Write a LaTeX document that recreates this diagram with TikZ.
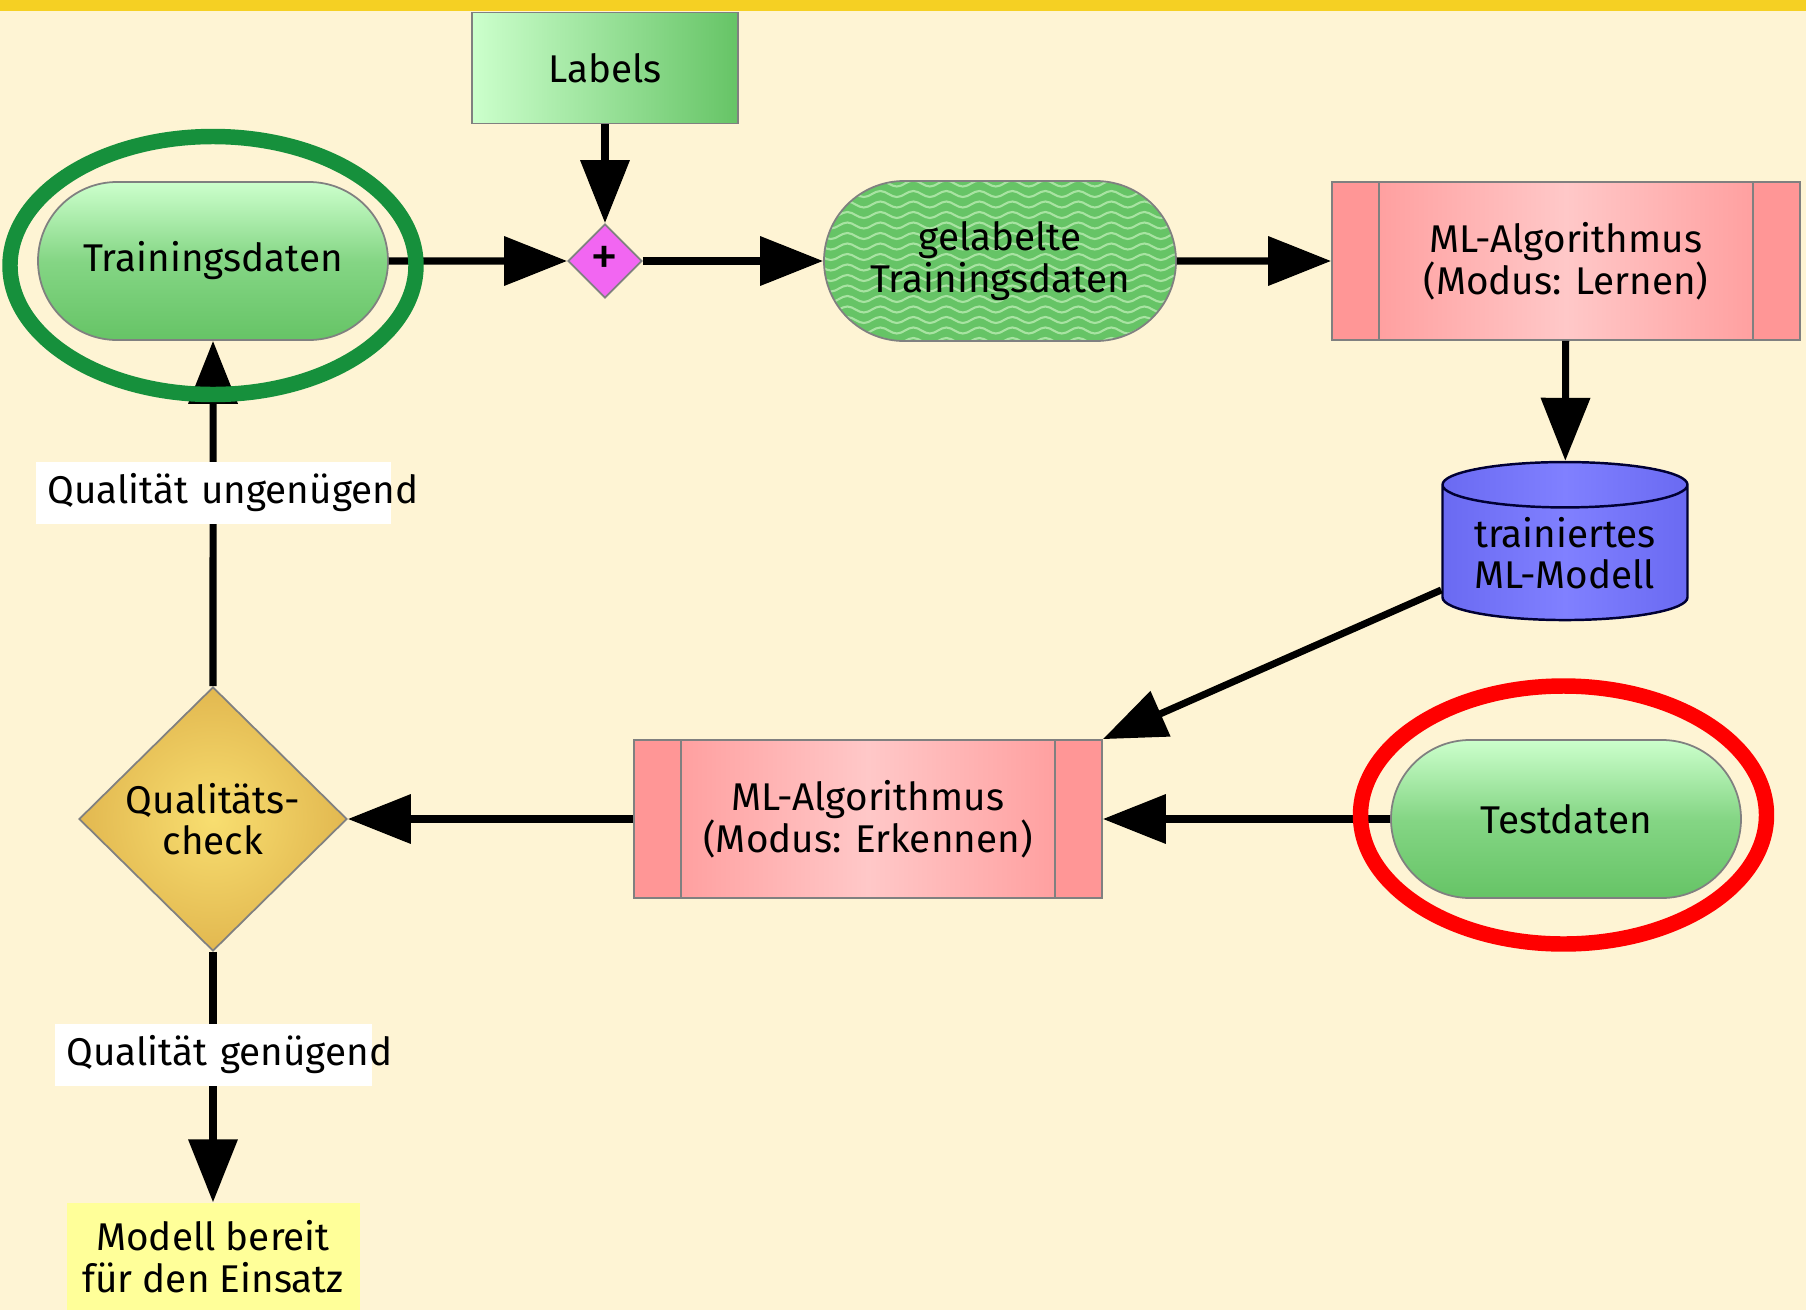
\documentclass[tikz,border=0pt]{standalone}
\usepackage{fontspec}
\setmainfont{Fira Sans}
\usetikzlibrary{shapes.geometric,shapes.misc,arrows.meta,decorations.pathmorphing}
\definecolor{bg}{HTML}{FEF4D4}
\definecolor{band}{HTML}{F5D023}
\definecolor{lgreen}{HTML}{CCFFCC}
\definecolor{mgreen}{HTML}{66C466}
\definecolor{wavy}{HTML}{A8E3A2}
\definecolor{dpink}{HTML}{FF9696}
\definecolor{lpink}{HTML}{FFC8C8}
\definecolor{plusfill}{HTML}{F266F2}
\definecolor{modfill}{HTML}{8080FF}
\definecolor{modedge}{HTML}{6A6AF2}
\definecolor{gold1}{HTML}{F8DE70}
\definecolor{gold2}{HTML}{E2B850}
\definecolor{ready}{HTML}{FFFF99}
\definecolor{ringgreen}{HTML}{16903C}
\definecolor{ringred}{HTML}{FF0000}
\tikzset{
  box/.style={draw=gray, line width=0.5pt, font=\fontsize{11}{11.8}\selectfont, align=center, inner sep=0pt},
  data/.style={box, rounded rectangle, minimum width=3.5cm, minimum height=1.58cm,
    top color=lgreen, bottom color=mgreen, middle color=mgreen!70!lgreen},
  waved/.style={box, rounded rectangle, minimum width=3.52cm, minimum height=1.6cm, fill=mgreen,
    path picture={\foreach \k in {0,...,16}
      \draw[wavy, line width=0.6pt, decorate, decoration={snake, amplitude=0.03cm, segment length=0.33cm}]
        ([xshift=-0.2cm, yshift=\k*0.105cm]path picture bounding box.south west)
        -- ([xshift=0.2cm, yshift=\k*0.105cm]path picture bounding box.south east);}},
  algo/.style={box, rectangle, minimum width=4.68cm, minimum height=1.58cm,
    left color=dpink, right color=dpink, middle color=lpink,
    path picture={
      \fill[dpink] (path picture bounding box.south west) rectangle ([xshift=0.47cm]path picture bounding box.north west);
      \fill[dpink] (path picture bounding box.south east) rectangle ([xshift=-0.47cm]path picture bounding box.north east);
      \draw[gray, line width=0.5pt] ([xshift=0.47cm]path picture bounding box.south west) -- ([xshift=0.47cm]path picture bounding box.north west);
      \draw[gray, line width=0.5pt] ([xshift=-0.47cm]path picture bounding box.south east) -- ([xshift=-0.47cm]path picture bounding box.north east);}},
  flow/.style={line width=2pt, -{Triangle[length=0.63cm, width=0.48cm]}},
  cond/.style={fill=white, inner xsep=0.12cm, inner ysep=0pt, minimum height=0.62cm, align=left,
    font=\fontsize{11}{11.8}\selectfont},
  ring/.style={line width=4.4pt}
}
\begin{document}
\begin{tikzpicture}
  \useasboundingbox (0,0) rectangle (18.06,-13.10);
  \fill[bg] (0,0) rectangle (18.06,-13.10);
  \fill[band] (0,0) rectangle (18.06,-0.11);

  \node[box, rectangle, minimum width=2.66cm, minimum height=1.11cm, left color=lgreen, right color=mgreen] (labels) at (6.05,-0.68) {Labels};
  \node[box, diamond, minimum size=0.74cm, fill=plusfill, font=\fontsize{16}{16}\selectfont\addfontfeatures{Weight=Light}] (plus) at (6.05,-2.61) {+};
  \node[data] (train) at (2.13,-2.61) {Trainingsdaten};
  \node[waved] (gelabelt) at (10.00,-2.61) {gelabelte\\Trainingsdaten};
  \node[algo] (lernen) at (15.66,-2.61) {ML-Algorithmus\\(Modus: Lernen)};
  \node[box, cylinder, shape border rotate=90, aspect=0.25, minimum width=2.45cm, minimum height=1.58cm,
        draw=black!80!blue, line width=0.7pt, left color=modedge, right color=modedge, middle color=modfill] (modell) at (15.65,-5.53) {trainiertes\\ML-Modell};
  \node[algo] (erkennen) at (8.68,-8.19) {ML-Algorithmus\\(Modus: Erkennen)};
  \node[data] (test) at (15.66,-8.19) {Testdaten};
  \node[box, diamond, minimum width=2.68cm, minimum height=2.64cm, inner color=gold1, outer color=gold2] (check) at (2.13,-8.19) {Qualitäts-\\check};
  \node[fill=ready, minimum width=2.93cm, minimum height=1.07cm, align=center, inner sep=0pt,
        font=\fontsize{11}{11.8}\selectfont] (bereit) at (2.13,-12.565) {Modell bereit\\für den Einsatz};

  \draw[flow] (train) -- (plus);
  \draw[flow] (labels) -- (plus);
  \draw[flow] (plus) -- (gelabelt);
  \draw[flow] (gelabelt) -- (lernen);
  \draw[flow] (lernen) -- (modell);
  \draw[flow] ([yshift=-0.37cm]modell.west) -- (erkennen.north east);
  \draw[flow] (test) -- (erkennen);
  \draw[flow] (erkennen) -- (check);
  \draw[flow] (check) -- node[cond, text width=3.31cm, pos=0.56] (schlecht) {\mbox{Qualität ungenügend}} (train);
  \draw[flow] (check) -- node[cond, text width=2.93cm, pos=0.41] (gut) {\mbox{Qualität genügend}} (bereit);

  \draw[ring, ringgreen] ([yshift=-0.045cm]train.center) ellipse[x radius=2.03, y radius=1.29];
  \draw[ring, ringred] ([xshift=-0.025cm, yshift=0.04cm]test.center) ellipse[x radius=2.03, y radius=1.29];
\end{tikzpicture}
\end{document}
